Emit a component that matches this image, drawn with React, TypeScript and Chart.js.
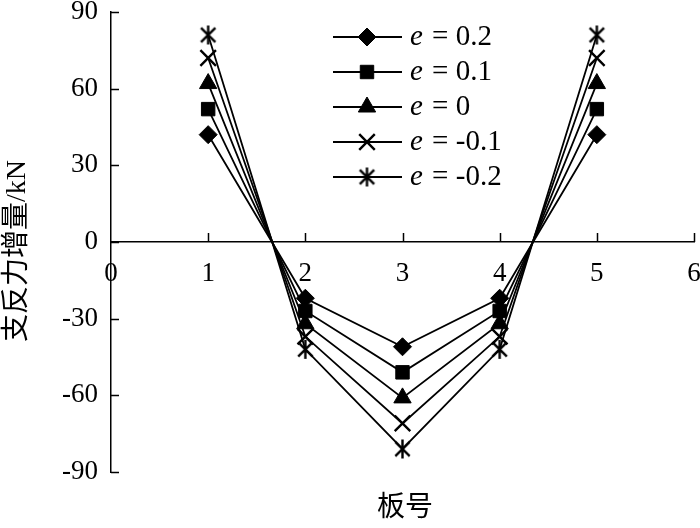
import React, { useEffect, useRef } from "react";
import { Chart, registerables } from "chart.js";
import { drawPoint } from "chart.js/helpers";

Chart.register(...registerables);

// ---- data ----
const boardNumbers = [1, 2, 3, 4, 5];
const seriesLabels = ["e = 0.2", "e = 0.1", "e = 0", "e = -0.1", "e = -0.2"];
const valuesE02 = [42, -22, -41, -22, 42];
const valuesE01 = [52, -27, -51, -27, 52];
const valuesE0 = [62, -32, -61, -32, 62];
const valuesEm01 = [72, -37, -71, -37, 72];
const valuesEm02 = [81, -42, -81, -42, 81];
const xTicks = [0, 1, 2, 3, 4, 5, 6];
const yTicks = [-90, -60, -30, 0, 30, 60, 90];
const xTitle = "板号";
const yTitle = "支反力增量/kN";

const FONT = '"Liberation Serif", "Noto Sans CJK SC", serif';

function makeAsterisk(): HTMLCanvasElement {
  const size = 21;
  const c = document.createElement("canvas");
  c.width = size;
  c.height = size;
  const g = c.getContext("2d")!;
  g.strokeStyle = "#000";
  g.lineWidth = 2.4;
  const cx = size / 2;
  const r = 9.5;
  const d = 7.2;
  g.beginPath();
  g.moveTo(cx, cx - r);
  g.lineTo(cx, cx + r);
  g.moveTo(cx - d, cx - d);
  g.lineTo(cx + d, cx + d);
  g.moveTo(cx + d, cx - d);
  g.lineTo(cx - d, cx + d);
  g.stroke();
  return c;
}

const axisDecorPlugin = {
  id: "axisDecor",
  afterDraw(chart: any) {
    const ctx = chart.ctx as CanvasRenderingContext2D;
    const xs = chart.scales.x;
    const ys = chart.scales.y;
    const left = chart.chartArea.left;
    const y0 = ys.getPixelForValue(0);
    ctx.save();
    ctx.strokeStyle = "#000";
    ctx.lineWidth = 1.5;
    ctx.beginPath();
    yTicks.forEach((v) => {
      const py = Math.round(ys.getPixelForValue(v)) + 0.5;
      ctx.moveTo(left, py);
      ctx.lineTo(left + 8, py);
    });
    xTicks.forEach((v) => {
      if (v === 0) return;
      const px = Math.round(xs.getPixelForValue(v)) + 0.5;
      ctx.moveTo(px, y0);
      ctx.lineTo(px, y0 - 9);
    });
    ctx.stroke();

    // x tick labels
    ctx.fillStyle = "#000";
    ctx.font = `27px ${FONT}`;
    ctx.textAlign = "center";
    ctx.textBaseline = "middle";
    xTicks.forEach((v) => {
      ctx.fillText(String(v), xs.getPixelForValue(v), y0 + 32);
    });

    // axis titles
    ctx.font = `28px ${FONT}`;
    ctx.fillText(xTitle, 405, 509);
    ctx.save();
    ctx.translate(18, 251);
    ctx.rotate(-Math.PI / 2);
    ctx.fillText(yTitle, 0, 0);
    ctx.restore();

    // legend
    const lx0 = 333;
    const lx1 = 402;
    const mx = 367;
    const tx = 410;
    const ly0 = 37;
    const ldy = 35;
    chart.data.datasets.forEach((ds: any, i: number) => {
      const y = ly0 + i * ldy;
      ctx.strokeStyle = "#000";
      ctx.fillStyle = "#000";
      ctx.lineWidth = 1.8;
      ctx.beginPath();
      ctx.moveTo(lx0, y);
      ctx.lineTo(lx1, y);
      ctx.stroke();
      ctx.lineWidth = ds.pointBorderWidth;
      drawPoint(
        ctx,
        {
          pointStyle: ds.pointStyle,
          radius: ds.pointRadius,
          rotation: 0,
          borderWidth: ds.pointBorderWidth,
        } as any,
        mx,
        y
      );
      const label: string = ds.label;
      ctx.textAlign = "left";
      ctx.textBaseline = "middle";
      ctx.font = `italic 29px ${FONT}`;
      ctx.fillText(label[0], tx, y);
      const w = ctx.measureText(label[0]).width;
      ctx.font = `29px ${FONT}`;
      ctx.fillText(label.slice(1), tx + w + 2, y);
    });
    ctx.restore();
  },
};

export default function App() {
  const ref = useRef<HTMLCanvasElement | null>(null);
  useEffect(() => {
    if (!ref.current) return;
    const asterisk = makeAsterisk();
    const mk = (vals: number[]) => boardNumbers.map((x, i) => ({ x, y: vals[i] }));
    const base = {
      borderColor: "#000",
      backgroundColor: "#000",
      pointBackgroundColor: "#000",
      pointBorderColor: "#000",
      borderWidth: 1.8,
      fill: false,
      tension: 0,
    };
    const chart = new Chart(ref.current, {
      type: "line",
      data: {
        datasets: [
          { ...base, label: seriesLabels[0], data: mk(valuesE02), pointStyle: "rectRot", pointRadius: 9, pointBorderWidth: 1 },
          { ...base, label: seriesLabels[1], data: mk(valuesE01), pointStyle: "rect", pointRadius: 9.5, pointBorderWidth: 1 },
          { ...base, label: seriesLabels[2], data: mk(valuesE0), pointStyle: "triangle", pointRadius: 10, pointBorderWidth: 1 },
          { ...base, label: seriesLabels[3], data: mk(valuesEm01), pointStyle: "crossRot", pointRadius: 11, pointBorderWidth: 2.4 },
          { ...base, label: seriesLabels[4], data: mk(valuesEm02), pointStyle: asterisk as any, pointRadius: 10, pointBorderWidth: 2.4 },
        ] as any,
      },
      options: {
        responsive: false,
        animation: false,
        layout: { autoPadding: false, padding: { left: 0, top: 12, right: 6, bottom: 56 } },
        plugins: { legend: { display: false }, tooltip: { enabled: false } },
        scales: {
          x: {
            type: "linear",
            min: 0,
            max: 6,
            position: { y: 0 } as any,
            afterFit: (s: any) => {
              s.height = 0;
              s.paddingLeft = 0;
              s.paddingRight = 0;
            },
            afterBuildTicks: (s: any) => {
              s.ticks = xTicks.map((v) => ({ value: v }));
            },
            grid: { drawOnChartArea: false, drawTicks: false },
            border: { display: true, color: "#000", width: 1.5 },
            ticks: { display: false },
          },
          y: {
            type: "linear",
            min: -90,
            max: 90,
            afterFit: (s: any) => {
              s.width = 111;
              s.paddingTop = 0;
              s.paddingBottom = 0;
            },
            afterBuildTicks: (s: any) => {
              s.ticks = yTicks.map((v) => ({ value: v }));
            },
            grid: { drawOnChartArea: false, drawTicks: false },
            border: { display: true, color: "#000", width: 1.5 },
            ticks: {
              padding: 13,
              color: "#000",
              font: { family: FONT, size: 27 },
              autoSkip: false,
            },
          },
        },
      },
      plugins: [axisDecorPlugin],
    });
    return () => chart.destroy();
  }, []);
  return (
    <div style={{ position: "absolute", left: 0, top: 0, width: 700, height: 528, background: "#fff" }}>
      <canvas ref={ref} width={700} height={528} style={{ display: "block" }} />
    </div>
  );
}
